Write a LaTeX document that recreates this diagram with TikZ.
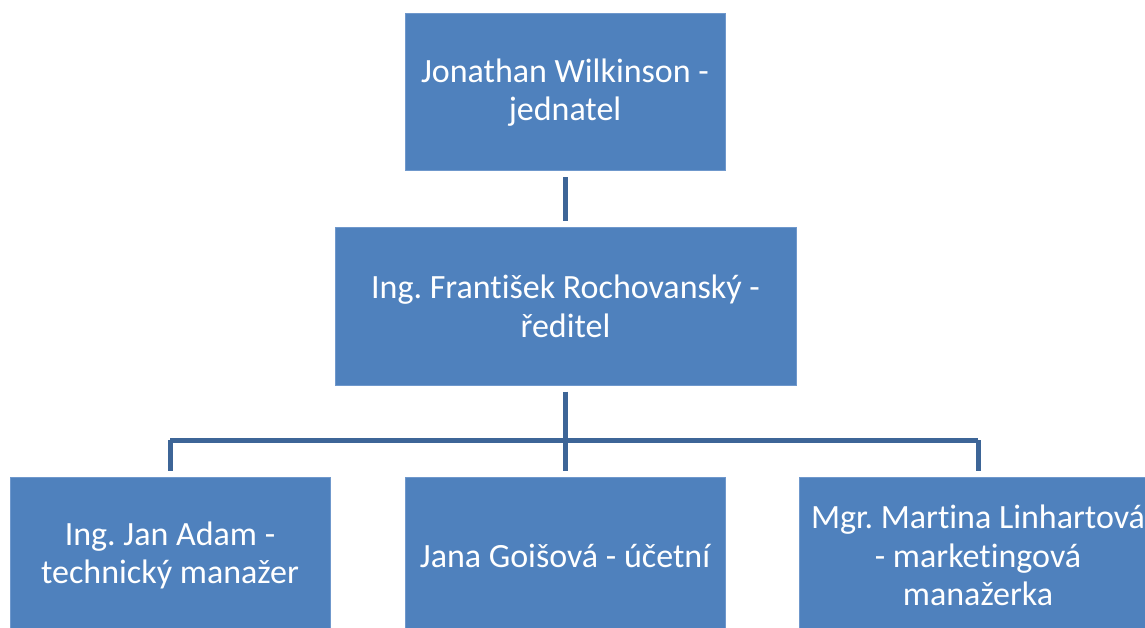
\documentclass[tikz,border=0pt]{standalone}
\usepackage{fontspec}
\setmainfont{Carlito}[Ligatures=CommonOff]
\usetikzlibrary{positioning}
\definecolor{boxblue}{HTML}{4F81BD}
\definecolor{boxedge}{HTML}{6F98CC}
\definecolor{linkblue}{HTML}{3D6597}
\frenchspacing
\tikzset {
    x=1pt, y=-1pt,
    person/.style={draw=boxedge, line width=1pt, fill=boxblue, text=white,
        minimum height=157pt, align=center, inner sep=4pt,
        font=\fontsize{34}{38.5}\selectfont},
    link/.style={draw=linkblue, line width=5pt, line join=round}
}

\begin{document}
\begin{tikzpicture}
    \useasboundingbox (0,0) rectangle (1145,628);
    \clip (0,0) rectangle (1145,628);

    \node[person, minimum width=320pt] (owner) at (565,92.5) {Jonathan Wilkinson -\\jednatel};
    \node[person, minimum width=461pt] (boss) at (565.5,306.5) {Ing. František Rochovanský -\\ředitel};
    \node[person, minimum width=320pt] (tech) at (170,555.5) {Ing. Jan Adam -\\technický manažer};
    \node[person, minimum width=320pt] (acct) at (565,555.5) {Jana Goišová - účetní};
    \node[person, minimum width=358pt] (mark) at (978,555.5) {Mgr. Martina Linhartová\\- marketingová\\manažerka};

    \coordinate (bus) at (565,440);

    \draw[link, shorten <=6pt, shorten >=6pt] (owner.south) -- (owner.south |- boss.north);
    \draw[link, shorten <=6pt] (boss.south) -- (boss.south |- bus);
    \draw[link, shorten >=6pt] (tech.north |- bus) -- (tech.north);
    \draw[link] (tech.north |- bus) -- (mark.north |- bus);
    \draw[link, shorten >=6pt] (mark.north |- bus) -- (mark.north);
    \draw[link, shorten >=6pt] (acct.north |- bus) -- (acct.north);
\end{tikzpicture}
\end{document}
